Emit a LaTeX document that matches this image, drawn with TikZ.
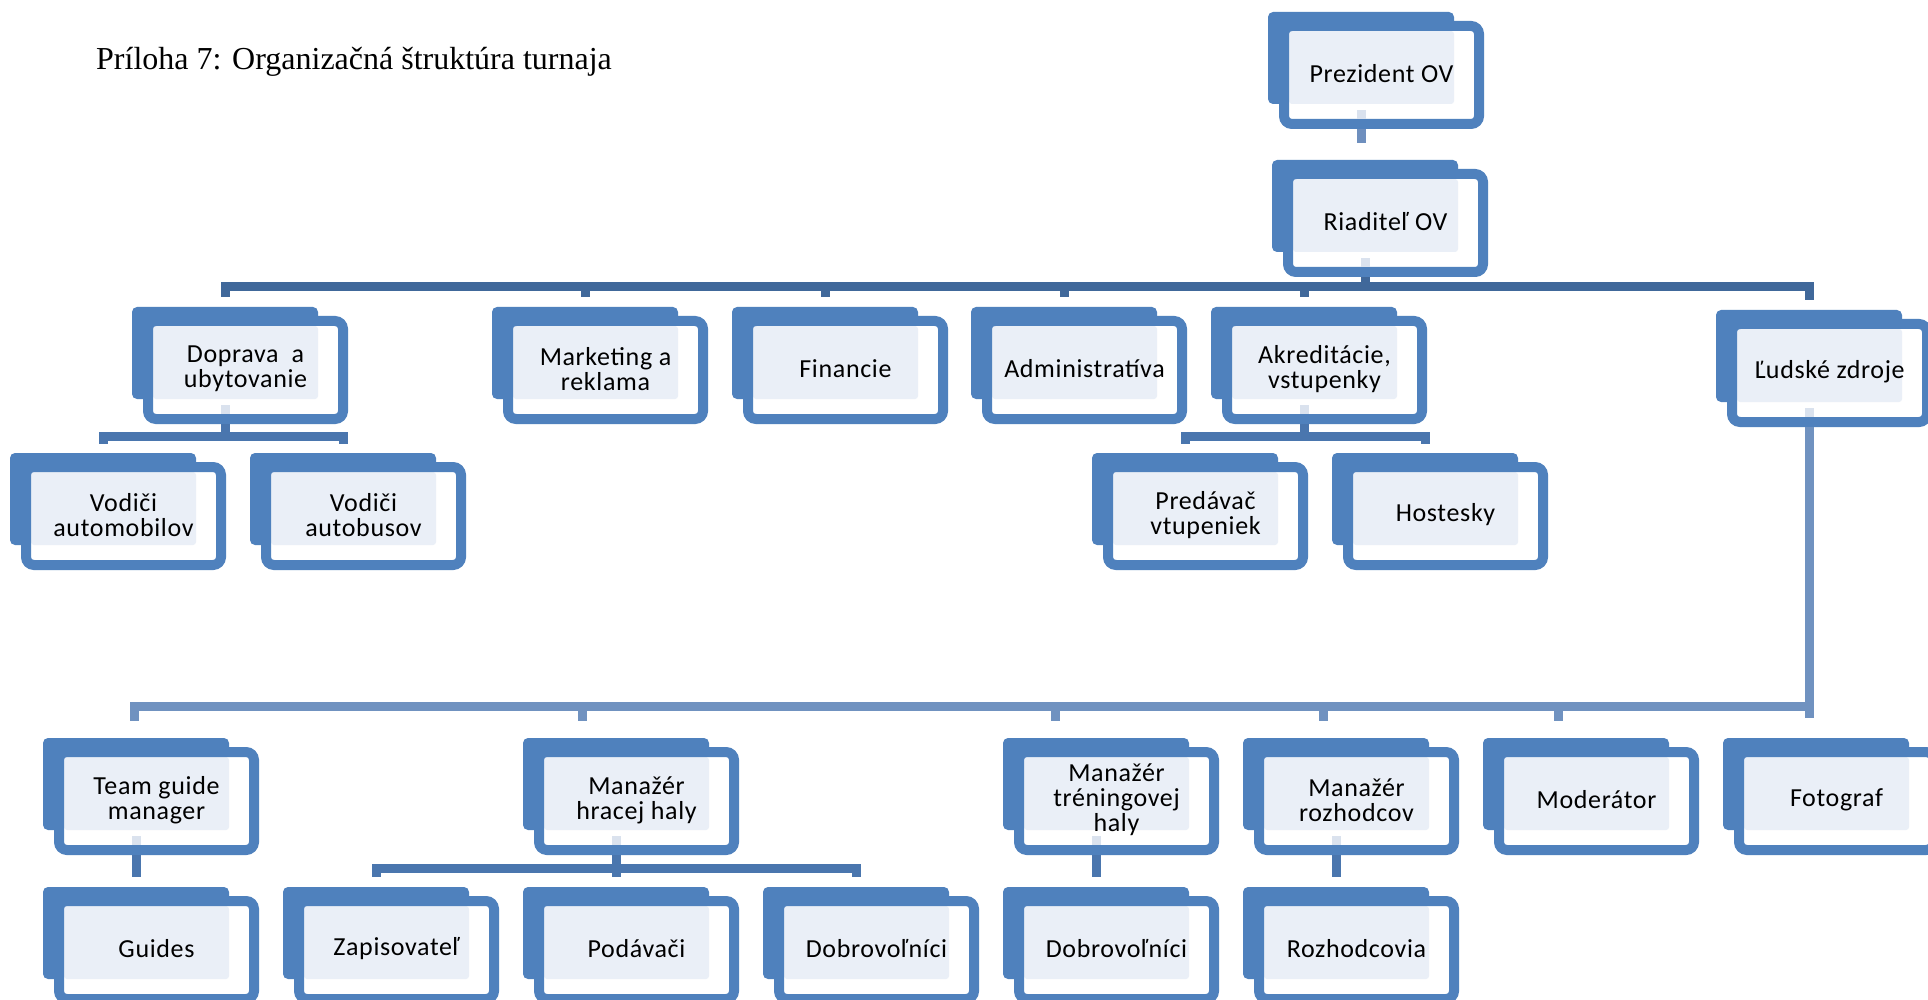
\documentclass[tikz,border=0pt]{standalone}
\usepackage{fontspec}
\setmainfont{Carlito}[LetterSpace=2.5]
\newfontfamily\titlefont{Liberation Serif}
\definecolor{boxblue}{RGB}{79,129,189}
\definecolor{lightfill}{RGB}{234,239,247}
\definecolor{connA}{RGB}{110,143,190}
\definecolor{connB}{RGB}{64,104,154}
\definecolor{connC}{RGB}{74,118,174}
\definecolor{connD}{RGB}{112,146,192}
\definecolor{stubfill}{RGB}{218,226,238}
\tikzset{
  backbox/.style={fill=boxblue, draw=none, rounded corners=5pt, minimum width=186pt, minimum height=92pt, inner sep=0pt},
  frontbox/.style={draw=boxblue, line width=10pt, fill=white, rounded corners=8pt,
    minimum width=195pt, minimum height=98pt, inner sep=0pt,
    path picture={\fill[lightfill, rounded corners=3pt]
      ([shift={(-92.5pt,44pt)}]path picture bounding box.center) rectangle
      ([shift={(72.5pt,-29pt)}]path picture bounding box.center);}},
  boxtext/.style={inner sep=0pt, align=center, font=\fontsize{26}{25}\selectfont, text=black},
  conn/.style={line width=9pt, line cap=butt, line join=miter},
  innerstub/.style={line width=9pt, draw=stubfill, line cap=butt},
}
\newcommand\orgbox[4]{%
  \node[backbox] (#1) at (#2+93, #3+46) {};
  \node[frontbox] (#1-f) at (#2+113.5, #3+63) {};
  \node[boxtext] (#1-t) at (#2+113.5, #3+62) {#4};
}
\begin{document}
\begin{tikzpicture}[x=1pt, y=-1pt]
\useasboundingbox (0,0) rectangle (1928,1000);
\fill[white] (0,0) rectangle (1928,1000);
\clip (0,0) rectangle (1928,1000);

\node[anchor=base west, inner sep=0pt, font=\titlefont\fontsize{32}{38}\selectfont] (title) at (96,70) {Príloha 7: Organizačná štruktúra turnaja};

% boxes
\orgbox{pres}{1268}{12}{Prezident OV}
\orgbox{riad}{1272}{160}{Riaditeľ OV}
\orgbox{dopr}{132}{307}{Doprava\ \ a\\ubytovanie}
\orgbox{mark}{492}{307}{Marketing a\\reklama}
\orgbox{fin}{732}{307}{Financie}
\orgbox{adm}{971}{307}{Administratíva}
\orgbox{akr}{1211}{307}{Akreditácie,\\vstupenky}
\orgbox{ludz}{1716}{310}{Ľudské zdroje}
\orgbox{vauto}{10}{453}{Vodiči\\automobilov}
\orgbox{vbus}{250}{453}{Vodiči\\autobusov}
\orgbox{pred}{1092}{453}{Predávač\\vtupeniek}
\orgbox{host}{1332}{453}{Hostesky}
\orgbox{tgm}{43}{738}{Team guide\\manager}
\orgbox{mhh}{523}{738}{Manažér\\hracej haly}
\orgbox{mth}{1003}{738}{Manažér\\tréningovej\\haly}
\orgbox{mroz}{1243}{738}{Manažér\\rozhodcov}
\orgbox{mod}{1483}{738}{Moderátor}
\orgbox{foto}{1723}{738}{Fotograf}
\orgbox{guides}{43}{887}{Guides}
\orgbox{zap}{283}{887}{Zapisovateľ}
\orgbox{pod}{523}{887}{Podávači}
\orgbox{dobrA}{763}{887}{Dobrovoľníci}
\orgbox{dobrB}{1003}{887}{Dobrovoľníci}
\orgbox{rozh}{1243}{887}{Rozhodcovia}

% bus levels
\coordinate (b1) at (0,287);
\coordinate (b2) at (0,436);
\coordinate (b3) at (0,706);
\coordinate (b4) at (0,868);

% light stubs inside parent frames
\foreach \p in {pres,riad,dopr,akr,ludz,tgm,mhh,mth,mroz}
  \draw[innerstub] ([yshift=-6pt]\p.south) -- ([yshift=-15pt]\p.south);

% connectors
\draw[conn, draw=connA] ([yshift=-25pt]pres.south) -- ([yshift=17pt]riad.north -| pres.south);

\foreach \c in {dopr,mark,fin,adm,akr,ludz}
  \draw[conn, draw=connB] ([yshift=-25pt]riad.south) -- (riad.south |- b1) -| ([yshift=10pt]\c.north);

\foreach \c in {vauto,vbus}
  \draw[conn, draw=connC] ([yshift=-25pt]dopr.south) -- (dopr.south |- b2) -| ([yshift=9pt]\c.north);
\foreach \c in {pred,host}
  \draw[conn, draw=connC] ([yshift=-25pt]akr.south) -- (akr.south |- b2) -| ([yshift=9pt]\c.north);

\foreach \c/\s in {tgm/-2,mhh/-34,mth/-41,mroz/-13,mod/-18}
  \draw[conn, draw=connD] ([yshift=-25pt]ludz.south) -- (ludz.south |- b3) -| ([xshift=\s pt,yshift=17pt]\c.north);
\draw[conn, draw=connD] ([yshift=-25pt]ludz.south) -- ([yshift=20pt]foto.north -| ludz.south);

\draw[conn, draw=connC] ([yshift=-25pt]tgm.south) -- ([yshift=10pt]guides.north);
\foreach \c in {zap,pod,dobrA}
  \draw[conn, draw=connC] ([yshift=-25pt]mhh.south) -- (mhh.south |- b4) -| ([yshift=10pt]\c.north);
\draw[conn, draw=connC] ([yshift=-25pt]mth.south) -- ([yshift=10pt]dobrB.north);
\draw[conn, draw=connC] ([yshift=-25pt]mroz.south) -- ([yshift=10pt]rozh.north);
\end{tikzpicture}
\end{document}
